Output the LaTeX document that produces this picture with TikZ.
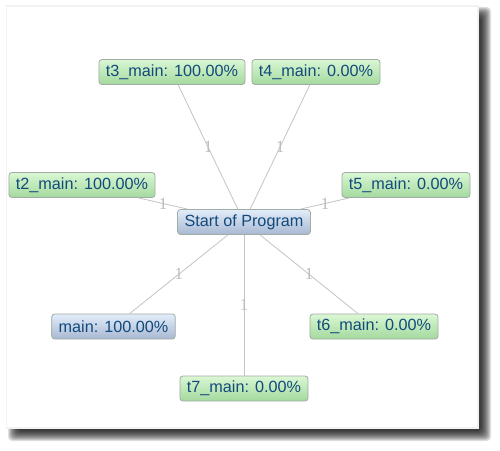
\documentclass[tikz,border=0pt]{standalone}
\usepackage{fontspec}
\setmainfont{Liberation Sans}
\newfontfamily\lblfont{Liberation Serif}
\usetikzlibrary{calc}
\definecolor{txtblue}{HTML}{124A7C}
\definecolor{gtop}{HTML}{DAF7D4}
\definecolor{gbot}{HTML}{A4D99E}
\definecolor{btop}{HTML}{E2EDFA}
\definecolor{bbot}{HTML}{A8B8D2}
\definecolor{nodeborder}{HTML}{A2ACA6}
\definecolor{edgegray}{HTML}{C4C4C4}
\definecolor{lblgray}{HTML}{BDBDBD}
\tikzset{
  basebox/.style={draw=nodeborder, line width=0.8pt, rounded corners=3pt,
    minimum height=25pt, inner xsep=7pt, inner ysep=0pt, text=txtblue,
    font=\fontsize{16.2}{19}\selectfont},
  greenbox/.style={basebox, top color=gtop, bottom color=gbot},
  bluebox/.style={basebox, top color=btop, bottom color=bbot},
  edge/.style={draw=edgegray, line width=0.8pt},
  lbl/.style={text=lblgray, font=\lblfont\fontsize{17}{19}\selectfont, inner sep=0pt}
}
\begin{document}
\begin{tikzpicture}[x=1pt,y=1pt]
\useasboundingbox (0,0) rectangle (500,450);
% shadow
\foreach \e in {7,6,5,4,3,2,1,0,-1,-2,-3}{
  \fill[black, opacity=0.12, rounded corners=4pt] (15-\e,16-\e) rectangle (484+\e,436+\e);
}
% faint outer line of panel
\fill[black!5] (5.5,21.5) rectangle (478.5,444.5);
\fill[white] (7,23) rectangle (477,443);
% nodes
\node[bluebox]  (start) at (244,228)   {Start of Program};
\node[greenbox] (t3)    at (172,378)   {t3\_main: 100.00\%};
\node[greenbox] (t4)    at (316,378)   {t4\_main: 0.00\%};
\node[greenbox] (t2)    at (82,265)    {t2\_main: 100.00\%};
\node[greenbox] (t5)    at (406,265)   {t5\_main: 0.00\%};
\node[bluebox]  (main)  at (113.5,123.5) {main: 100.00\%};
\node[greenbox] (t6)    at (374,123.5) {t6\_main: 0.00\%};
\node[greenbox] (t7)    at (244,61.5)  {t7\_main: 0.00\%};
% edges
\foreach \n in {t3,t4,t2,t5,main,t6,t7}{
  \draw[edge] (start) -- (\n);
  \node[lbl] (l\n) at ($(start.center)!0.5!(\n.center)$) {1};
}
\end{tikzpicture}
\end{document}
